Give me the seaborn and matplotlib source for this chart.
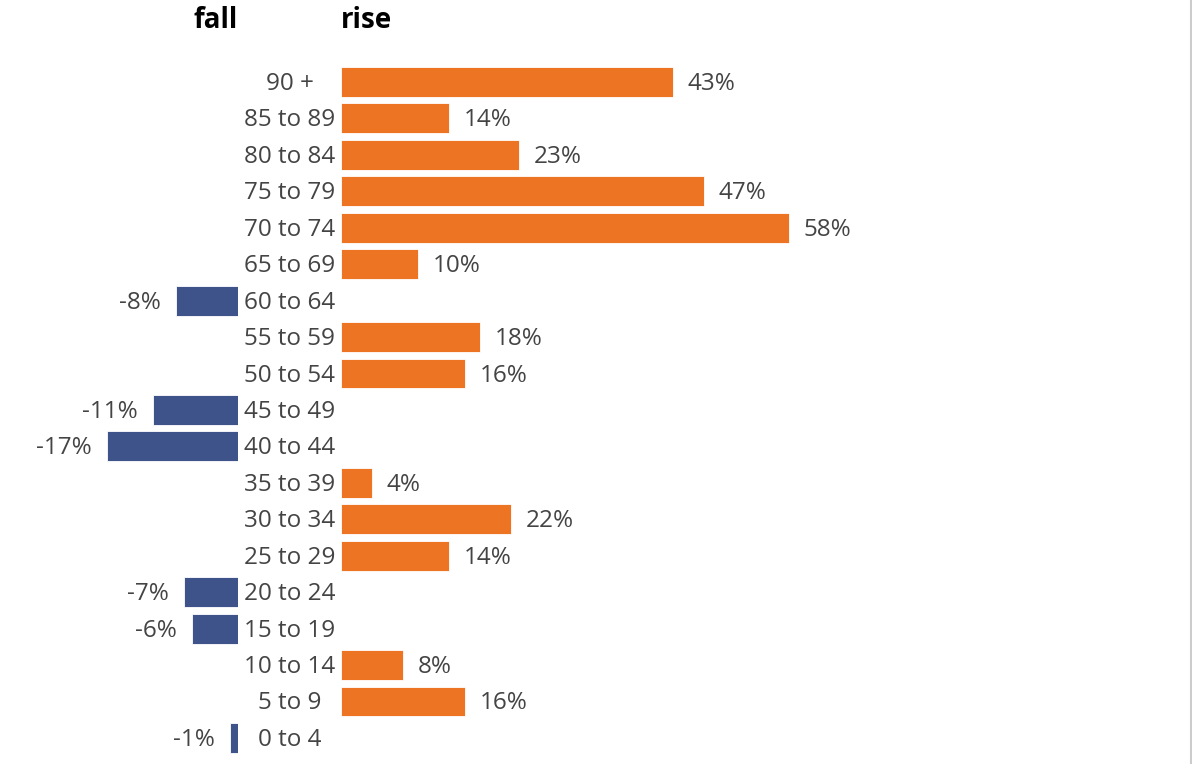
import numpy as np
import pandas as pd
import matplotlib
matplotlib.use("Agg")
import matplotlib.pyplot as plt
import matplotlib.transforms as mtransforms
from matplotlib.lines import Line2D
import seaborn as sns

categories = ["90 +", "85 to 89", "80 to 84", "75 to 79", "70 to 74", "65 to 69",
              "60 to 64", "55 to 59", "50 to 54", "45 to 49", "40 to 44", "35 to 39",
              "30 to 34", "25 to 29", "20 to 24", "15 to 19", "10 to 14", "5 to 9", "0 to 4"]
values = [43, 14, 23, 47, 58, 10, -8, 18, 16, -11, -17, 4, 22, 14, -7, -6, 8, 16, -1]
header_fall = "fall"
header_rise = "rise"

sns.set_theme(style="white")
plt.rcParams['font.family'] = ['Open Sans', 'DejaVu Sans']

ORANGE = "#ED7422"
BLUE = "#3E5389"
TXT = "#444444"
FS = 17.5

df = pd.DataFrame({"cat": categories, "val": values})
df["neg"] = df["val"].where(df["val"] < 0, 0)
df["pos"] = df["val"].where(df["val"] > 0, 0)

W, H = 1192, 764
fig = plt.figure(figsize=(W / 100, H / 100), dpi=100)
fig.patch.set_facecolor("white")

scale = 7.72  # px per percent
row = 36.44
top_c = 82
ax_top = top_c - row / 2
ax_h = row * len(categories)
bottom = (H - (ax_top + ax_h)) / H
height = ax_h / H

left_x0, left_x1 = 0, 238
right_x0, right_x1 = 341, 1180

axL = fig.add_axes([left_x0 / W, bottom, (left_x1 - left_x0) / W, height])
axR = fig.add_axes([right_x0 / W, bottom, (right_x1 - right_x0) / W, height])

sns.barplot(data=df, x="neg", y="cat", order=categories, color=BLUE, width=0.82,
            saturation=1, orient="h", ax=axL)
sns.barplot(data=df, x="pos", y="cat", order=categories, color=ORANGE, width=0.82,
            saturation=1, orient="h", ax=axR)

axL.set_xlim(-(left_x1 - left_x0) / scale, 0)
axR.set_xlim(0, (right_x1 - right_x0) / scale)
for ax in (axL, axR):
    ax.set_ylim(len(categories) - 0.5, -0.5)
    ax.axis("off")
    for p in ax.patches:
        p.set_edgecolor("white")
        p.set_linewidth(0.6)

down = mtransforms.ScaledTranslation(0, -2 / 100, fig.dpi_scale_trans)

pad = 15 / scale
for i, v in enumerate(values):
    if v < 0:
        axL.text(v - pad, i, f"{v}%", ha="right", va="center", fontsize=FS, color=TXT,
                 transform=axL.transData + down)
    else:
        axR.text(v + pad, i, f"{v}%", ha="left", va="center", fontsize=FS, color=TXT,
                 transform=axR.transData + down)

tr = mtransforms.blended_transform_factory(fig.transFigure, axR.transData) + down
for i, c in enumerate(categories):
    axR.text(289.5 / W, i, c, transform=tr, ha="center", va="center",
             fontsize=FS, color=TXT, clip_on=False)

fig.text(238 / W, 1 - 20 / H, header_fall, ha="right", va="center",
         fontsize=20, fontweight="bold", color="black")
fig.text(341 / W, 1 - 20 / H, header_rise, ha="left", va="center",
         fontsize=20, fontweight="bold", color="black")

fig.add_artist(Line2D([1 - 1.5 / W, 1 - 1.5 / W], [0, 1], transform=fig.transFigure,
                      color="#cccccc", linewidth=1.5))

fig.savefig("out.png", dpi=100, facecolor="white")
